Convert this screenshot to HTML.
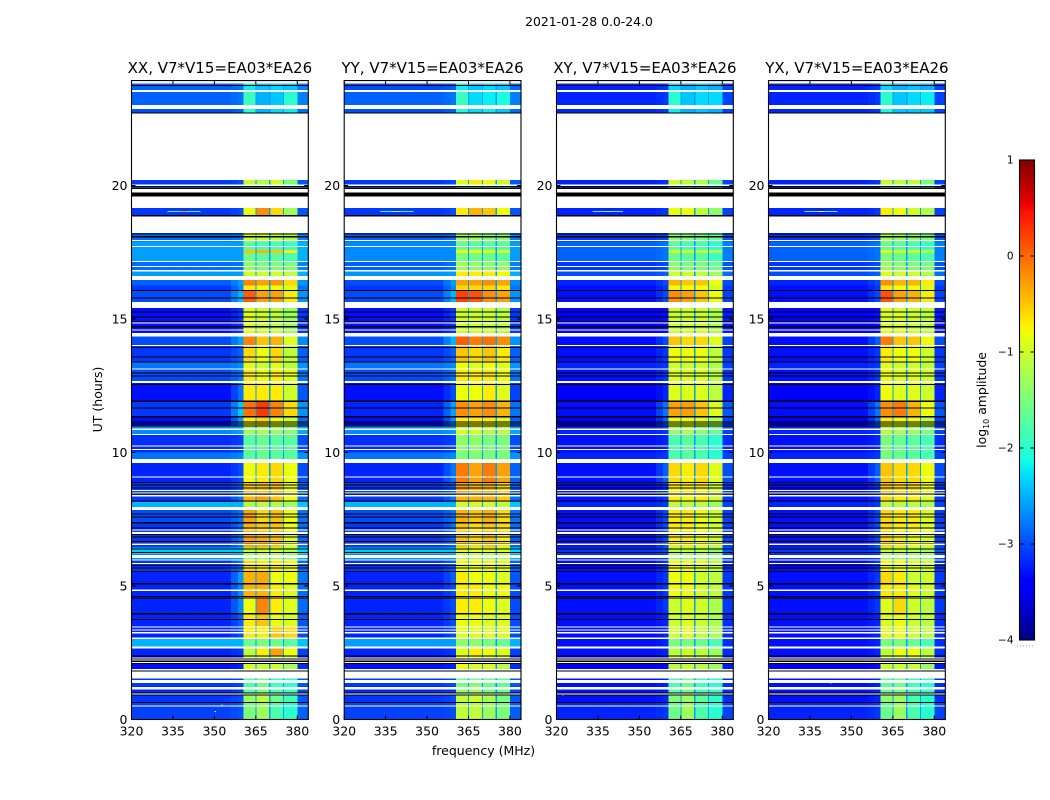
<!DOCTYPE html>
<html lang="en">
<head>
<meta charset="utf-8">
<title>2021-01-28 0.0-24.0 amplitude waterfall</title>
<style>
html,body{margin:0;padding:0;background:#fff;}
svg{display:block;}
text{font-family:"DejaVu Sans","Liberation Sans",sans-serif;fill:#000;}
</style>
</head>
<body>
<svg id="figure" xmlns="http://www.w3.org/2000/svg" width="1050" height="800" viewBox="0 0 1050 800">
  <text x="589" y="26" font-size="12.4" text-anchor="middle">2021-01-28 0.0-24.0</text>
  <text x="483.5" y="755" font-size="12.5" text-anchor="middle">frequency (MHz)</text>
  <text x="0" y="0" font-size="12.5" text-anchor="middle" transform="translate(102,399.5) rotate(-90)">UT (hours)</text>
  <text x="0" y="0" font-size="12.4" text-anchor="middle" transform="translate(986,400) rotate(-90)">log<tspan font-size="8" dy="3">10</tspan><tspan dy="-3"> amplitude</tspan></text>
  <line x1="1017" y1="646" x2="1034" y2="646" stroke="#999" stroke-width="1" stroke-dasharray="1 2"></line>
</svg>
<script>
const panelTitles = ['XX, V7*V15=EA03*EA26', 'YY, V7*V15=EA03*EA26', 'XY, V7*V15=EA03*EA26', 'YX, V7*V15=EA03*EA26'];
const freqTicks = [320, 335, 350, 365, 380];
const hourTicks = [0, 5, 10, 15, 20];
const colorTicks = [-4, -3, -2, -1, 0, 1];
const gapFreqs = [365, 370, 375];
const gapLevel = [-2.6];

const rowEdges = [0,0.65,1,1.25,1.6,2.08,2.4,2.65,3.02,3.5,3.96,4.55,5.08,5.54,5.97,6.2,6.45,6.95,7.4,7.85,8.14,8.45,8.9,9.61,9.76,10,10.68,10.97,11.34,11.92,12.6,13.1,13.4,14,14.34,15.45,16.05,16.25,16.5,16.8,17.15,17.48,17.58,17.9,18.25,18.9,19.2,19.9,20,20.22,22.7,23.01,23.5,23.93];

// each row: background, shoulder, sub-band 1..4 (log10 amplitude)
const levelsXX = [
[-3.05,-2.95,-1.5,-1.3,-1.8,-2.0],[-3.1,-3.0,-1.3,-1.1,-1.6,-1.9],[-3.2,-3.1,-1.7,-1.5,-1.8,-1.9],[-3.1,-3.0,-1.8,-1.6,-1.9,-2.0],
[-3.3,-3.2,-0.9,-1.0,-1.0,-1.2],[-3.4,-3.3,-1.0,-1.0,-1.0,-1.1],[-3.2,-3.1,-1.1,-0.7,-0.3,-0.8],[-2.5,-2.5,-1.6,-1.5,-1.6,-1.7],
[-3.2,-3.0,-0.7,-0.7,-0.5,-0.6],[-3.2,-2.9,-0.7,-0.5,-0.8,-0.9],[-3.2,-2.7,-0.8,-0.15,-0.7,-0.9],[-3.2,-2.7,-0.4,-0.4,-0.7,-0.9],
[-3.2,-2.6,-0.4,-0.35,-0.8,-0.8],[-3.1,-2.8,-0.6,-0.7,-0.7,-0.8],[-2.7,-2.6,-1.3,-1.2,-1.3,-1.4],[-2.4,-2.4,-1.1,-1.0,-1.0,-1.2],
[-3.1,-2.8,-0.3,-0.4,-0.5,-0.9],[-3.1,-2.8,-0.4,-0.5,-0.5,-0.8],[-3.0,-2.8,-0.3,-0.6,-0.5,-0.8],[-2.5,-2.5,-1.2,-1.1,-1.2,-1.3],
[-3.1,-2.8,-0.4,-0.3,-0.5,-0.8],[-3.1,-2.9,-0.5,-0.5,-0.5,-0.8],[-3.2,-3.0,-0.8,-0.7,-0.6,-0.8],[-2.7,-2.6,-1.6,-1.6,-1.6,-1.6],
[-2.8,-2.7,-1.7,-1.6,-1.7,-1.7],[-3.15,-3.05,-1.7,-1.6,-1.7,-1.7],[-2.7,-2.6,-1.3,-1.2,-1.3,-1.4],[-3.3,-2.6,-0.7,-0.6,-0.8,-1.0],
[-3.1,-2.4,-0.05,0.25,-0.15,-0.6],[-3.3,-2.8,-0.7,-0.7,-0.7,-1.0],[-3.0,-2.8,-0.7,-0.8,-0.7,-0.9],[-2.8,-2.7,-0.9,-1.0,-0.9,-1.1],
[-3.1,-2.9,-0.6,-0.8,-0.6,-1.1],[-3.0,-2.6,-0.15,-0.5,-0.4,-0.9],[-3.3,-3.1,-0.9,-1.0,-1.1,-1.3],[-3.0,-2.5,0.05,-0.3,-0.3,-0.7],
[-3.1,-2.7,-0.7,-0.8,-0.8,-0.9],[-2.9,-2.6,-0.15,-0.3,-0.25,-0.6],[-2.6,-2.6,-1.0,-1.0,-1.0,-1.1],[-2.85,-2.8,-1.4,-1.5,-1.5,-1.5],
[-2.6,-2.6,-1.6,-1.7,-1.7,-1.8],[-2.6,-2.6,-0.5,-0.4,-0.5,-0.7],[-2.6,-2.6,-1.7,-1.8,-1.8,-1.9],[-2.85,-2.8,-1.0,-1.0,-1.1,-1.2],
[-2.9,-2.8,-1.1,-1.1,-1.2,-1.3],[-3.1,-3.0,-0.8,-0.2,-0.6,-1.3],[-3.1,-3.0,-0.8,-0.4,-0.6,-1.3],[-2.5,-2.5,-2.0,-2.0,-2.0,-2.0],
[-3.1,-3.0,-1.0,-1.2,-1.0,-1.5],[-3.1,-3.0,-2.0,-2.2,-2.0,-2.2],[-3.0,-2.9,-2.0,-2.5,-2.3,-2.2],[-2.9,-2.8,-1.9,-2.5,-2.4,-2.0],
[-2.9,-2.8,-2.2,-2.4,-2.3,-2.4]];

const levelsYY = [
[-3.05,-3.0,-1.1,-1.1,-1.3,-1.5],[-3.1,-3.0,-1.1,-1.0,-1.2,-1.5],[-3.2,-3.1,-1.4,-1.3,-1.5,-1.6],[-3.1,-3.0,-1.6,-1.5,-1.6,-1.7],
[-3.3,-3.2,-0.8,-0.9,-0.9,-1.1],[-3.4,-3.3,-0.9,-0.9,-1.0,-1.1],[-3.2,-3.1,-0.9,-0.7,-0.8,-0.9],[-2.6,-2.6,-1.4,-1.4,-1.5,-1.6],
[-3.2,-3.0,-0.9,-0.9,-0.9,-0.9],[-3.2,-3.0,-0.8,-0.8,-0.9,-0.9],[-3.2,-3.0,-0.7,-0.7,-0.8,-0.9],[-3.2,-3.0,-0.7,-0.7,-0.8,-0.8],
[-3.2,-2.9,-0.7,-0.8,-0.8,-0.9],[-3.1,-2.9,-0.8,-0.8,-0.8,-0.9],[-2.7,-2.6,-1.1,-1.1,-1.2,-1.2],[-2.4,-2.4,-0.9,-0.9,-0.9,-1.0],
[-3.1,-2.9,-0.5,-0.6,-0.5,-0.7],[-3.1,-2.8,-0.5,-0.6,-0.5,-0.6],[-3.0,-2.8,-0.4,-0.5,-0.4,-0.6],[-2.5,-2.5,-1.0,-1.0,-1.0,-1.1],
[-3.1,-2.8,-0.4,-0.4,-0.4,-0.5],[-3.1,-2.9,-0.3,-0.4,-0.4,-0.6],[-3.2,-2.8,-0.1,-0.3,-0.1,-0.3],[-2.7,-2.6,-1.5,-1.5,-1.5,-1.5],
[-2.8,-2.7,-1.5,-1.5,-1.5,-1.5],[-3.15,-3.05,-1.4,-1.4,-1.5,-1.5],[-2.7,-2.6,-1.0,-1.0,-1.1,-1.1],[-3.3,-2.7,-0.7,-0.7,-0.7,-0.9],
[-3.2,-2.6,-0.2,-0.3,-0.2,-0.4],[-3.3,-3.0,-0.8,-0.8,-0.7,-0.9],[-3.0,-2.8,-0.7,-0.7,-0.7,-0.8],[-2.8,-2.7,-0.8,-0.9,-0.8,-0.9],
[-3.1,-2.9,-0.5,-0.6,-0.5,-0.7],[-3.0,-2.5,0.05,-0.1,-0.05,-0.2],[-3.3,-3.1,-1.0,-1.0,-1.0,-1.1],[-3.0,-2.5,0.2,0.1,-0.2,-0.3],
[-3.1,-2.7,-0.6,-0.6,-0.6,-0.7],[-3.0,-2.6,-0.3,-0.3,-0.2,-0.3],[-2.65,-2.6,-0.7,-0.7,-0.7,-0.8],[-2.9,-2.8,-1.3,-1.4,-1.4,-1.4],
[-2.7,-2.7,-1.5,-1.6,-1.6,-1.7],[-2.7,-2.7,-0.9,-0.8,-0.9,-1.0],[-2.7,-2.7,-1.6,-1.7,-1.7,-1.7],[-2.9,-2.8,-1.3,-1.3,-1.4,-1.4],
[-2.9,-2.9,-1.3,-1.3,-1.4,-1.4],[-3.1,-3.0,-0.7,-0.4,-0.5,-0.8],[-3.1,-3.0,-0.8,-0.5,-0.6,-0.8],[-2.6,-2.6,-2.0,-2.0,-2.0,-2.0],
[-3.1,-3.0,-0.9,-0.7,-0.8,-1.0],[-3.1,-3.0,-2.0,-2.0,-2.0,-2.0],[-3.0,-2.9,-2.1,-2.3,-2.2,-2.4],[-2.9,-2.8,-1.9,-2.3,-2.2,-2.1],
[-3.0,-2.9,-2.2,-2.4,-2.3,-2.4]];

const levelsXY = [
[-3.2,-3.1,-1.6,-1.3,-1.8,-2.0],[-3.3,-3.2,-1.5,-1.3,-1.7,-2.0],[-3.3,-3.2,-1.7,-1.5,-1.8,-1.9],[-3.3,-3.2,-1.8,-1.6,-1.9,-2.0],
[-3.4,-3.3,-1.1,-1.0,-1.1,-1.3],[-3.4,-3.3,-1.1,-1.0,-1.1,-1.3],[-3.3,-3.2,-1.1,-1.0,-1.1,-1.3],[-3.3,-3.2,-1.5,-1.5,-1.6,-1.8],
[-3.3,-3.2,-1.0,-0.9,-1.1,-1.2],[-3.3,-3.2,-1.0,-0.9,-1.0,-1.2],[-3.3,-3.1,-1.0,-0.9,-1.0,-1.2],[-3.3,-3.1,-0.8,-0.8,-1.0,-1.1],
[-3.3,-3.1,-0.8,-0.8,-1.0,-1.1],[-3.3,-3.1,-0.8,-0.8,-0.9,-1.1],[-3.2,-3.1,-1.3,-1.3,-1.3,-1.4],[-3.1,-3.0,-1.2,-1.1,-1.2,-1.4],
[-3.3,-3.0,-0.7,-0.7,-0.8,-1.0],[-3.3,-3.0,-0.7,-0.7,-0.8,-1.0],[-3.3,-3.0,-0.7,-0.7,-0.8,-1.0],[-3.2,-3.1,-1.1,-1.1,-1.1,-1.3],
[-3.3,-3.1,-0.7,-0.8,-0.7,-1.0],[-3.3,-3.1,-0.7,-0.7,-0.7,-1.0],[-3.3,-2.9,-0.6,-0.7,-0.6,-0.9],[-3.2,-3.1,-1.6,-1.6,-1.6,-1.8],
[-3.2,-3.1,-1.8,-1.7,-1.8,-2.0],[-3.3,-3.2,-1.8,-1.7,-1.8,-2.0],[-3.2,-3.1,-1.3,-1.2,-1.4,-1.6],[-3.4,-2.9,-0.8,-0.8,-0.9,-1.2],
[-3.3,-2.8,-0.3,-0.3,-0.5,-0.9],[-3.4,-3.2,-0.9,-0.9,-0.9,-1.1],[-3.3,-3.1,-0.9,-0.9,-0.9,-1.1],[-3.2,-3.1,-1.0,-1.0,-1.0,-1.2],
[-3.3,-3.1,-0.8,-0.8,-0.8,-1.1],[-3.3,-3.0,-0.5,-0.6,-0.6,-0.9],[-3.4,-3.3,-1.0,-1.0,-1.0,-1.2],[-3.3,-3.0,-0.2,-0.3,-0.5,-0.8],
[-3.3,-3.1,-0.8,-0.8,-0.8,-1.0],[-3.2,-3.0,-0.4,-0.5,-0.5,-0.8],[-3.0,-2.9,-1.0,-1.0,-1.1,-1.3],[-3.1,-3.0,-1.4,-1.5,-1.5,-1.6],
[-2.9,-2.8,-1.6,-1.7,-1.7,-1.9],[-2.9,-2.8,-1.0,-1.0,-1.1,-1.2],[-2.9,-2.8,-1.7,-1.8,-1.8,-2.0],[-3.1,-3.0,-1.4,-1.4,-1.5,-1.6],
[-3.1,-3.0,-1.4,-1.4,-1.5,-1.6],[-3.2,-3.1,-0.8,-0.8,-1.1,-1.4],[-3.2,-3.1,-0.9,-0.9,-1.1,-1.4],[-3.1,-3.0,-2.1,-2.1,-2.1,-2.2],
[-3.2,-3.1,-1.0,-1.1,-1.2,-1.6],[-3.2,-3.1,-2.1,-2.1,-2.1,-2.2],[-3.2,-3.1,-2.2,-2.5,-2.4,-2.5],[-3.2,-3.1,-2.0,-2.4,-2.3,-2.3],
[-3.2,-3.1,-2.3,-2.5,-2.4,-2.5]];

const levelsYX = [
[-3.2,-3.1,-1.6,-1.3,-1.8,-2.0],[-3.3,-3.2,-1.4,-1.3,-1.8,-2.0],[-3.3,-3.2,-1.6,-1.5,-1.8,-1.9],[-3.3,-3.2,-1.7,-1.6,-1.9,-2.0],
[-3.4,-3.3,-1.0,-1.0,-1.0,-1.3],[-3.4,-3.3,-1.1,-1.0,-1.1,-1.3],[-3.3,-3.2,-1.1,-0.8,-0.8,-1.1],[-3.3,-3.2,-1.5,-1.5,-1.6,-1.8],
[-3.3,-3.2,-0.9,-0.8,-1.0,-1.1],[-3.3,-3.2,-0.9,-0.8,-1.0,-1.1],[-3.3,-3.1,-0.9,-0.6,-1.0,-1.1],[-3.3,-3.1,-0.7,-0.7,-0.9,-1.0],
[-3.3,-3.1,-0.6,-0.7,-1.0,-1.0],[-3.3,-3.1,-0.8,-0.8,-0.9,-1.0],[-3.2,-3.1,-1.3,-1.3,-1.3,-1.4],[-3.1,-3.0,-1.1,-1.1,-1.2,-1.3],
[-3.3,-3.0,-0.6,-0.7,-0.8,-0.9],[-3.3,-3.0,-0.6,-0.7,-0.7,-0.9],[-3.3,-3.0,-0.6,-0.7,-0.7,-0.9],[-3.2,-3.1,-1.1,-1.1,-1.1,-1.2],
[-3.3,-3.1,-0.6,-0.7,-0.7,-0.9],[-3.3,-3.1,-0.5,-0.6,-0.6,-0.8],[-3.3,-2.9,-0.5,-0.6,-0.6,-0.8],[-3.2,-3.1,-1.5,-1.5,-1.6,-1.7],
[-3.2,-3.1,-1.5,-1.6,-1.7,-1.8],[-3.3,-3.2,-1.5,-1.6,-1.7,-1.8],[-3.2,-3.1,-1.1,-1.2,-1.3,-1.5],[-3.4,-2.9,-0.7,-0.8,-0.8,-1.1],
[-3.3,-2.8,-0.2,-0.1,-0.4,-0.8],[-3.4,-3.2,-0.8,-0.9,-0.9,-1.0],[-3.3,-3.1,-0.8,-0.9,-0.9,-1.0],[-3.2,-3.1,-0.9,-1.0,-1.0,-1.1],
[-3.3,-3.1,-0.7,-0.8,-0.8,-1.0],[-3.3,-2.9,-0.1,-0.5,-0.5,-0.8],[-3.4,-3.3,-0.9,-0.9,-1.0,-1.1],[-3.3,-3.0,0.1,-0.3,-0.4,-0.7],
[-3.3,-3.1,-0.7,-0.8,-0.8,-0.9],[-3.2,-3.0,-0.2,-0.4,-0.4,-0.7],[-3.0,-2.9,-0.9,-1.0,-1.0,-1.2],[-3.1,-3.0,-1.3,-1.4,-1.5,-1.5],
[-2.9,-2.8,-1.5,-1.6,-1.7,-1.8],[-2.9,-2.8,-0.9,-1.0,-1.0,-1.2],[-2.9,-2.8,-1.6,-1.7,-1.8,-1.9],[-3.1,-3.0,-1.2,-1.3,-1.4,-1.5],
[-3.1,-3.0,-1.3,-1.3,-1.4,-1.5],[-3.2,-3.1,-0.7,-0.8,-1.0,-1.2],[-3.2,-3.1,-0.8,-0.9,-1.0,-1.2],[-3.1,-3.0,-2.1,-2.1,-2.1,-2.2],
[-3.2,-3.1,-1.0,-1.1,-1.1,-1.5],[-3.2,-3.1,-2.1,-2.1,-2.1,-2.2],[-3.2,-3.1,-2.1,-2.4,-2.4,-2.4],[-3.2,-3.1,-2.0,-2.4,-2.3,-2.2],
[-3.2,-3.1,-2.3,-2.5,-2.4,-2.5]];

const noDataHours = [[23.82,23.93],[23.5,23.58],[22.86,23.01],[20.2,22.69],[19.98,20.04],[19.74,19.87],[19.16,19.58],[18.22,18.84],[17.92,17.96],[17.7,17.74],[17.13,17.17],[16.94,16.98],[16.77,16.83],[16.46,16.61],[15.42,15.64],[14.83,14.87],[14.57,14.61],[14.34,14.47],[13.98,14.02],[13.1,13.14],[12.61,12.67],[10.85,10.9],[10.65,10.7],[10.22,10.27],[10.09,10.14],[9.61,9.76],[9.06,9.1],[8.55,8.59],[8.46,8.5],[8.36,8.4],[7.85,7.96],[7.08,7.12],[6.95,7.02],[6.54,6.59],[6.04,6.16],[5.95,5.99],[5.83,5.87],[4.81,4.86],[3.44,3.49],[3.34,3.38],[3.23,3.27],[3.02,3.07],[2.65,2.73],[2.29,2.33],[2.21,2.25],[2.12,2.16],[1.84,1.9],[1.54,1.79],[1.36,1.48],[1.13,1.21],[0.94,0.98],[0.49,0.53]];

const zeroHours = [[23.72,23.76],[22.69,22.73],[19.95,19.98],[19.87,19.92],[19.58,19.74],[18.84,18.9],[18.16,18.2],[18.06,18.1],[16.04,16.08],[15.77,15.81],[15.25,15.29],[15.05,15.09],[14.88,14.92],[14.69,14.73],[13.91,13.95],[13.55,13.6],[13.37,13.41],[12.96,13],[12.84,12.88],[12.53,12.57],[11.9,11.94],[11.65,11.69],[11.32,11.36],[11.12,11.16],[11.05,11.09],[10.97,11.01],[8.85,8.89],[8.76,8.8],[8.65,8.69],[8.42,8.46],[8.17,8.21],[7.68,7.72],[7.57,7.61],[7.35,7.39],[7.15,7.19],[6.92,6.95],[6.81,6.85],[6.64,6.68],[6.59,6.61],[6.37,6.41],[6.23,6.27],[5.75,5.79],[5.65,5.69],[5.52,5.57],[5.06,5.11],[4.58,4.62],[4.53,4.57],[3.94,3.98],[3.73,3.77],[2.36,2.4],[2.25,2.29],[2.16,2.21],[2.08,2.12],[1.79,1.84],[0.98,1.01],[0.91,0.94],[0.61,0.65]];

// isolated interference: panel index, start MHz, end MHz, hour, level
const rfiPanel = [0,0,1,1,2,2,3,3,0,0,0,0,2,3,3];
const rfiStart = [333,337.5,333,337.5,333,337.5,333,337.5,325.5,352,350,352.5,322,342.5,352];
const rfiEnd = [345,340,345,340,344,340,345,340,326,352.6,350.5,353,322.5,343,352.6];
const rfiHour = [19.02,19.02,19.02,19.02,19.02,19.02,19.02,19.02,1.0,0.98,0.3,0.55,0.9,1.35,0.95];
const rfiLevel = [-1.9,-0.2,-2.0,-1.2,-2.0,-1.4,-1.9,-0.8,-0.8,-0.8,-0.9,-0.9,-0.7,0.3,-1.5];

const panelLevels = [levelsXX, levelsYY, levelsXY, levelsYX];
const panelKeys = ['xx', 'yy', 'xy', 'yx'];
const panelLefts = [131.5, 344.2, 556.5, 768.5];

const NS = 'http://www.w3.org/2000/svg';
const figure = document.getElementById('figure');
const panelWidth = 176.8;
const freqMin = 320, freqMax = 384, hourMax = 23.93;
const plotBottom = 719.5, plotPerHour = 26.7;

function xScale(left, f) { return left + (f - freqMin) * panelWidth / (freqMax - freqMin); }
function yScale(h) { return plotBottom - h * plotPerHour; }

function lerp(stops, t) {
  for (let i = 1; i < stops.length; i++) {
    if (t <= stops[i][0]) {
      const a = stops[i - 1], b = stops[i];
      return a[1] + (b[1] - a[1]) * (t - a[0]) / (b[0] - a[0]);
    }
  }
  return stops[stops.length - 1][1];
}
const jetR = [[0,0],[0.35,0],[0.66,1],[0.89,1],[1,0.5]];
const jetG = [[0,0],[0.125,0],[0.375,1],[0.64,1],[0.91,0],[1,0]];
const jetB = [[0,0.5],[0.11,1],[0.34,1],[0.65,0],[1,0]];
function colorOf(level) {
  const t = Math.max(0, Math.min(1, (level + 4) / 5));
  return 'rgb(' + Math.round(lerp(jetR, t) * 255) + ',' + Math.round(lerp(jetG, t) * 255) + ',' + Math.round(lerp(jetB, t) * 255) + ')';
}
function node(tag, parent) {
  const el = document.createElementNS(NS, tag);
  parent.appendChild(el);
  return el;
}
function box(parent, x0, x1, y0, y1, fill) {
  const r = node('rect', parent);
  r.setAttribute('x', x0);
  r.setAttribute('y', y0);
  r.setAttribute('width', x1 - x0);
  r.setAttribute('height', y1 - y0);
  r.setAttribute('fill', fill);
  r.setAttribute('shape-rendering', 'crispEdges');
  return r;
}
function segment(parent, x1, y1, x2, y2) {
  const l = node('line', parent);
  l.setAttribute('x1', x1);
  l.setAttribute('y1', y1);
  l.setAttribute('x2', x2);
  l.setAttribute('y2', y2);
  l.setAttribute('stroke', '#000');
  l.setAttribute('stroke-width', '1');
  return l;
}
function label(parent, x, y, str, size, anchor) {
  const t = node('text', parent);
  t.setAttribute('x', x);
  t.setAttribute('y', y);
  t.setAttribute('font-size', size);
  t.setAttribute('text-anchor', anchor);
  t.textContent = str;
  return t;
}

panelTitles.forEach(function (title, p) {
  const left = panelLefts[p];
  const right = left + panelWidth;
  const key = panelKeys[p];
  const levels = panelLevels[p];
  const g = node('g', figure);
  
  

  levels.forEach(function (row, i) {
    const y0 = yScale(rowEdges[i + 1]), y1 = yScale(rowEdges[i]);
    const bg = row[0], sh = row[1];
    const cols = [
      [320, 356, bg], [356, 358.5, (bg + sh) / 2], [358.5, 360.5, sh],
      [360.5, 365, row[2]], [365, 370, row[3]], [370, 375, row[4]], [375, 380, row[5]],
      [380, 384, (bg + sh) / 2 + 0.1]
    ];
    cols.forEach(function (c) {
      const cell = box(g, xScale(left, c[0]), xScale(left, c[1]), y0, y1, colorOf(c[2]));
      
      
    });
    gapFreqs.forEach(function (f) {
      const gap = box(g, xScale(left, f) - 0.5, xScale(left, f) + 0.7, y0, y1, colorOf(gapLevel[0]));
      
      
    });
  });

  rfiPanel.forEach(function (owner, i) {
    if (owner !== p) return;
    const spot = box(g, xScale(left, rfiStart[i]), xScale(left, rfiEnd[i]), yScale(rfiHour[i]) - 0.5, yScale(rfiHour[i]) + 0.5, colorOf(rfiLevel[i]));
    
    
  });

  zeroHours.forEach(function (r) {
    const bar = box(g, left, right, yScale(r[1]), Math.max(yScale(r[0]), yScale(r[1]) + 1), '#000');
    
    
  });
  noDataHours.forEach(function (r) {
    const bar = box(g, left, right, yScale(r[1]), Math.max(yScale(r[0]), yScale(r[1]) + 1), '#fff');
    
    
  });

  const frame = node('rect', g);
  frame.setAttribute('x', left);
  frame.setAttribute('y', yScale(hourMax));
  frame.setAttribute('width', panelWidth);
  frame.setAttribute('height', plotBottom - yScale(hourMax));
  frame.setAttribute('fill', 'none');
  frame.setAttribute('stroke', '#000');
  frame.setAttribute('stroke-width', '1.1');
  
  

  freqTicks.forEach(function (f) {
    const x = xScale(left, f);
    const bottomTick = segment(g, x, plotBottom, x, plotBottom - 4);
    
    
    const topTick = segment(g, x, yScale(hourMax), x, yScale(hourMax) + 4);
    
    
    const tickLabel = label(g, x, plotBottom + 16, String(f), 12.5, 'middle');
    
    
  });
  hourTicks.forEach(function (h) {
    const y = yScale(h);
    const leftTick = segment(g, left, y, left + 4, y);
    
    
    const rightTick = segment(g, right, y, right - 4, y);
    
    
    const tickLabel = label(g, left - 4, y + 4.5, String(h), 12.5, 'end');
    
    
  });

  const heading = label(g, (left + right) / 2, 73, title, 15, 'middle');
  
  
});

// colorbar
const cbLeft = 1019.5, cbRight = 1034.5, cbTop = 160, cbBottom = 640;
function cbScale(v) { return cbBottom - (v + 4) * (cbBottom - cbTop) / 5; }
const cb = node('g', figure);


for (let py = cbTop; py < cbBottom; py++) {
  const strip = box(cb, cbLeft, cbRight, py, py + 1, colorOf(-4 + (cbBottom - py - 0.5) * 5 / (cbBottom - cbTop)));
  
  
}
const cbFrame = node('rect', cb);
cbFrame.setAttribute('x', cbLeft);
cbFrame.setAttribute('y', cbTop);
cbFrame.setAttribute('width', cbRight - cbLeft);
cbFrame.setAttribute('height', cbBottom - cbTop);
cbFrame.setAttribute('fill', 'none');
cbFrame.setAttribute('stroke', '#000');
cbFrame.setAttribute('stroke-width', '1.1');


colorTicks.forEach(function (v) {
  const y = cbScale(v);
  const a = segment(cb, cbLeft, y, cbLeft + 4, y);
  
  
  const b = segment(cb, cbRight, y, cbRight - 4, y);
  
  
  const t = label(cb, cbLeft - 6, y + 3.5, String(v).replace('-', '\u2212'), 10.5, 'end');
  
  
});
</script>
</body>
</html>
